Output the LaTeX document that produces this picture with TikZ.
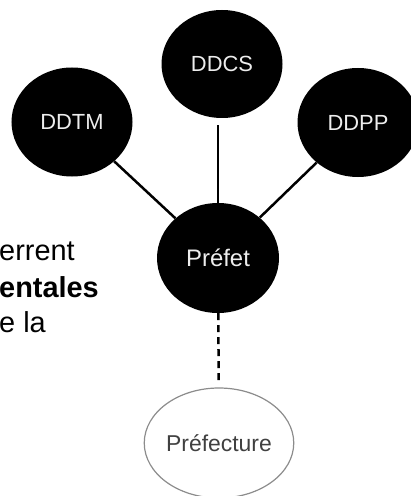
\documentclass[tikz,border=0pt]{standalone}
\usepackage{fontspec}
\setmainfont{Liberation Sans}
\usetikzlibrary{shapes.geometric}

\tikzset{
  service/.style={ellipse, fill=black, text=white!93!black, inner sep=0pt,
    minimum width=121bp, minimum height=109bp, font=\fontsize{22}{26}\selectfont},
  office/.style={ellipse, draw=black!45, line width=1.2bp, fill=white, text=black!75,
    inner sep=0pt, minimum width=116bp, minimum height=110bp, font=\fontsize{23}{27}\selectfont},
  link/.style={line width=2.5bp},
  textline/.style={anchor=base west, inner sep=0pt, font=\fontsize{29}{35}\selectfont}
}

\begin{document}
\begin{tikzpicture}[x=1bp,y=-1bp]
\useasboundingbox (0,0) rectangle (410,496);
\node[service] (ddtm) at (72,122) {DDTM};
\node[service, minimum height=108bp] (ddcs) at (222,64) {DDCS};
\node[service] (ddpp) at (358,122.5) {DDPP};
\node[service, minimum width=122bp, minimum height=110bp,
  font=\fontsize{24}{28}\selectfont] (prefet) at (218,258) {Préfet};
\node[office] (prefecture) at (219,443) {Préfecture};
\draw[link] (ddtm) -- (prefet);
\draw[link] (ddpp) -- (prefet);
\draw[link, shorten >=7bp] (prefet) -- (prefet |- ddcs.south);
\draw[link, dash pattern=on 7bp off 5bp, shorten >=6bp] (prefet) -- (prefecture);
% bout de texte coupé à gauche
\node[textline] (l1) at (-1,260) {errent};
\node[textline] (l2) at (-1,297) {\bfseries entales};
\node[textline] (l3) at (-1,332) {e la};
\end{tikzpicture}
\end{document}
